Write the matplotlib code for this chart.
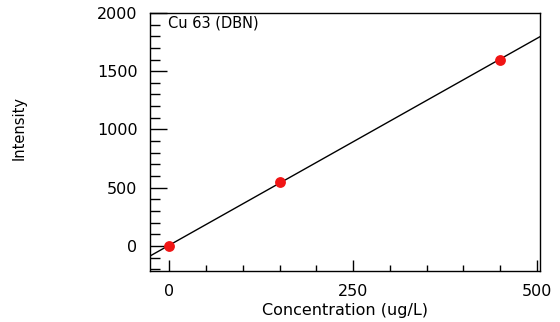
import numpy as np
import matplotlib.pyplot as plt
from matplotlib.ticker import MultipleLocator

plt.rcParams['font.family'] = ['DejaVu Sans']

# calibration standards
conc = [0, 150, 450]
intensity = [0, 550, 1600]
xticks = [0, 250, 500]
yticks = [0, 500, 1000, 1500, 2000]

fig = plt.figure(figsize=(5.6, 3.22), dpi=100)
ax = fig.add_axes([0.268, 0.158, 0.696, 0.802])

ax.set_xlim(-26, 504)
ax.set_ylim(-215, 2000)

# least squares line across the axes
slope, icpt = np.polyfit(conc, intensity, 1)
xl = np.array(ax.get_xlim())
ax.plot(xl, slope * xl + icpt, color='black', lw=1, zorder=2)
ax.plot(conc, intensity, 'o', color='#f01515', ms=7.8, mec='none', zorder=3)

ax.set_xticks(xticks)
ax.set_yticks(yticks)
ax.xaxis.set_minor_locator(MultipleLocator(50))
ax.yaxis.set_minor_locator(MultipleLocator(100))
ax.tick_params(axis='x', which='major', direction='in', length=8, width=1, pad=9, labelsize=11.5)
ax.tick_params(axis='x', which='minor', direction='in', length=4, width=1)
ax.tick_params(axis='y', which='major', direction='in', length=12, width=1, pad=9, labelsize=11.5)
ax.tick_params(axis='y', which='minor', direction='in', length=7, width=1)

for s in ax.spines.values():
    s.set_linewidth(1)

ax.text(0.045, 0.99, 'Cu 63 (DBN)', transform=ax.transAxes, fontsize=10.5,
        ha='left', va='top')
ax.set_xlabel('Concentration (ug/L)', fontsize=11.5, labelpad=3)
fig.text(0.034, 0.601, 'Intensity', rotation=90, fontsize=10.5, ha='center', va='center')

fig.savefig('out.png', dpi=100)
